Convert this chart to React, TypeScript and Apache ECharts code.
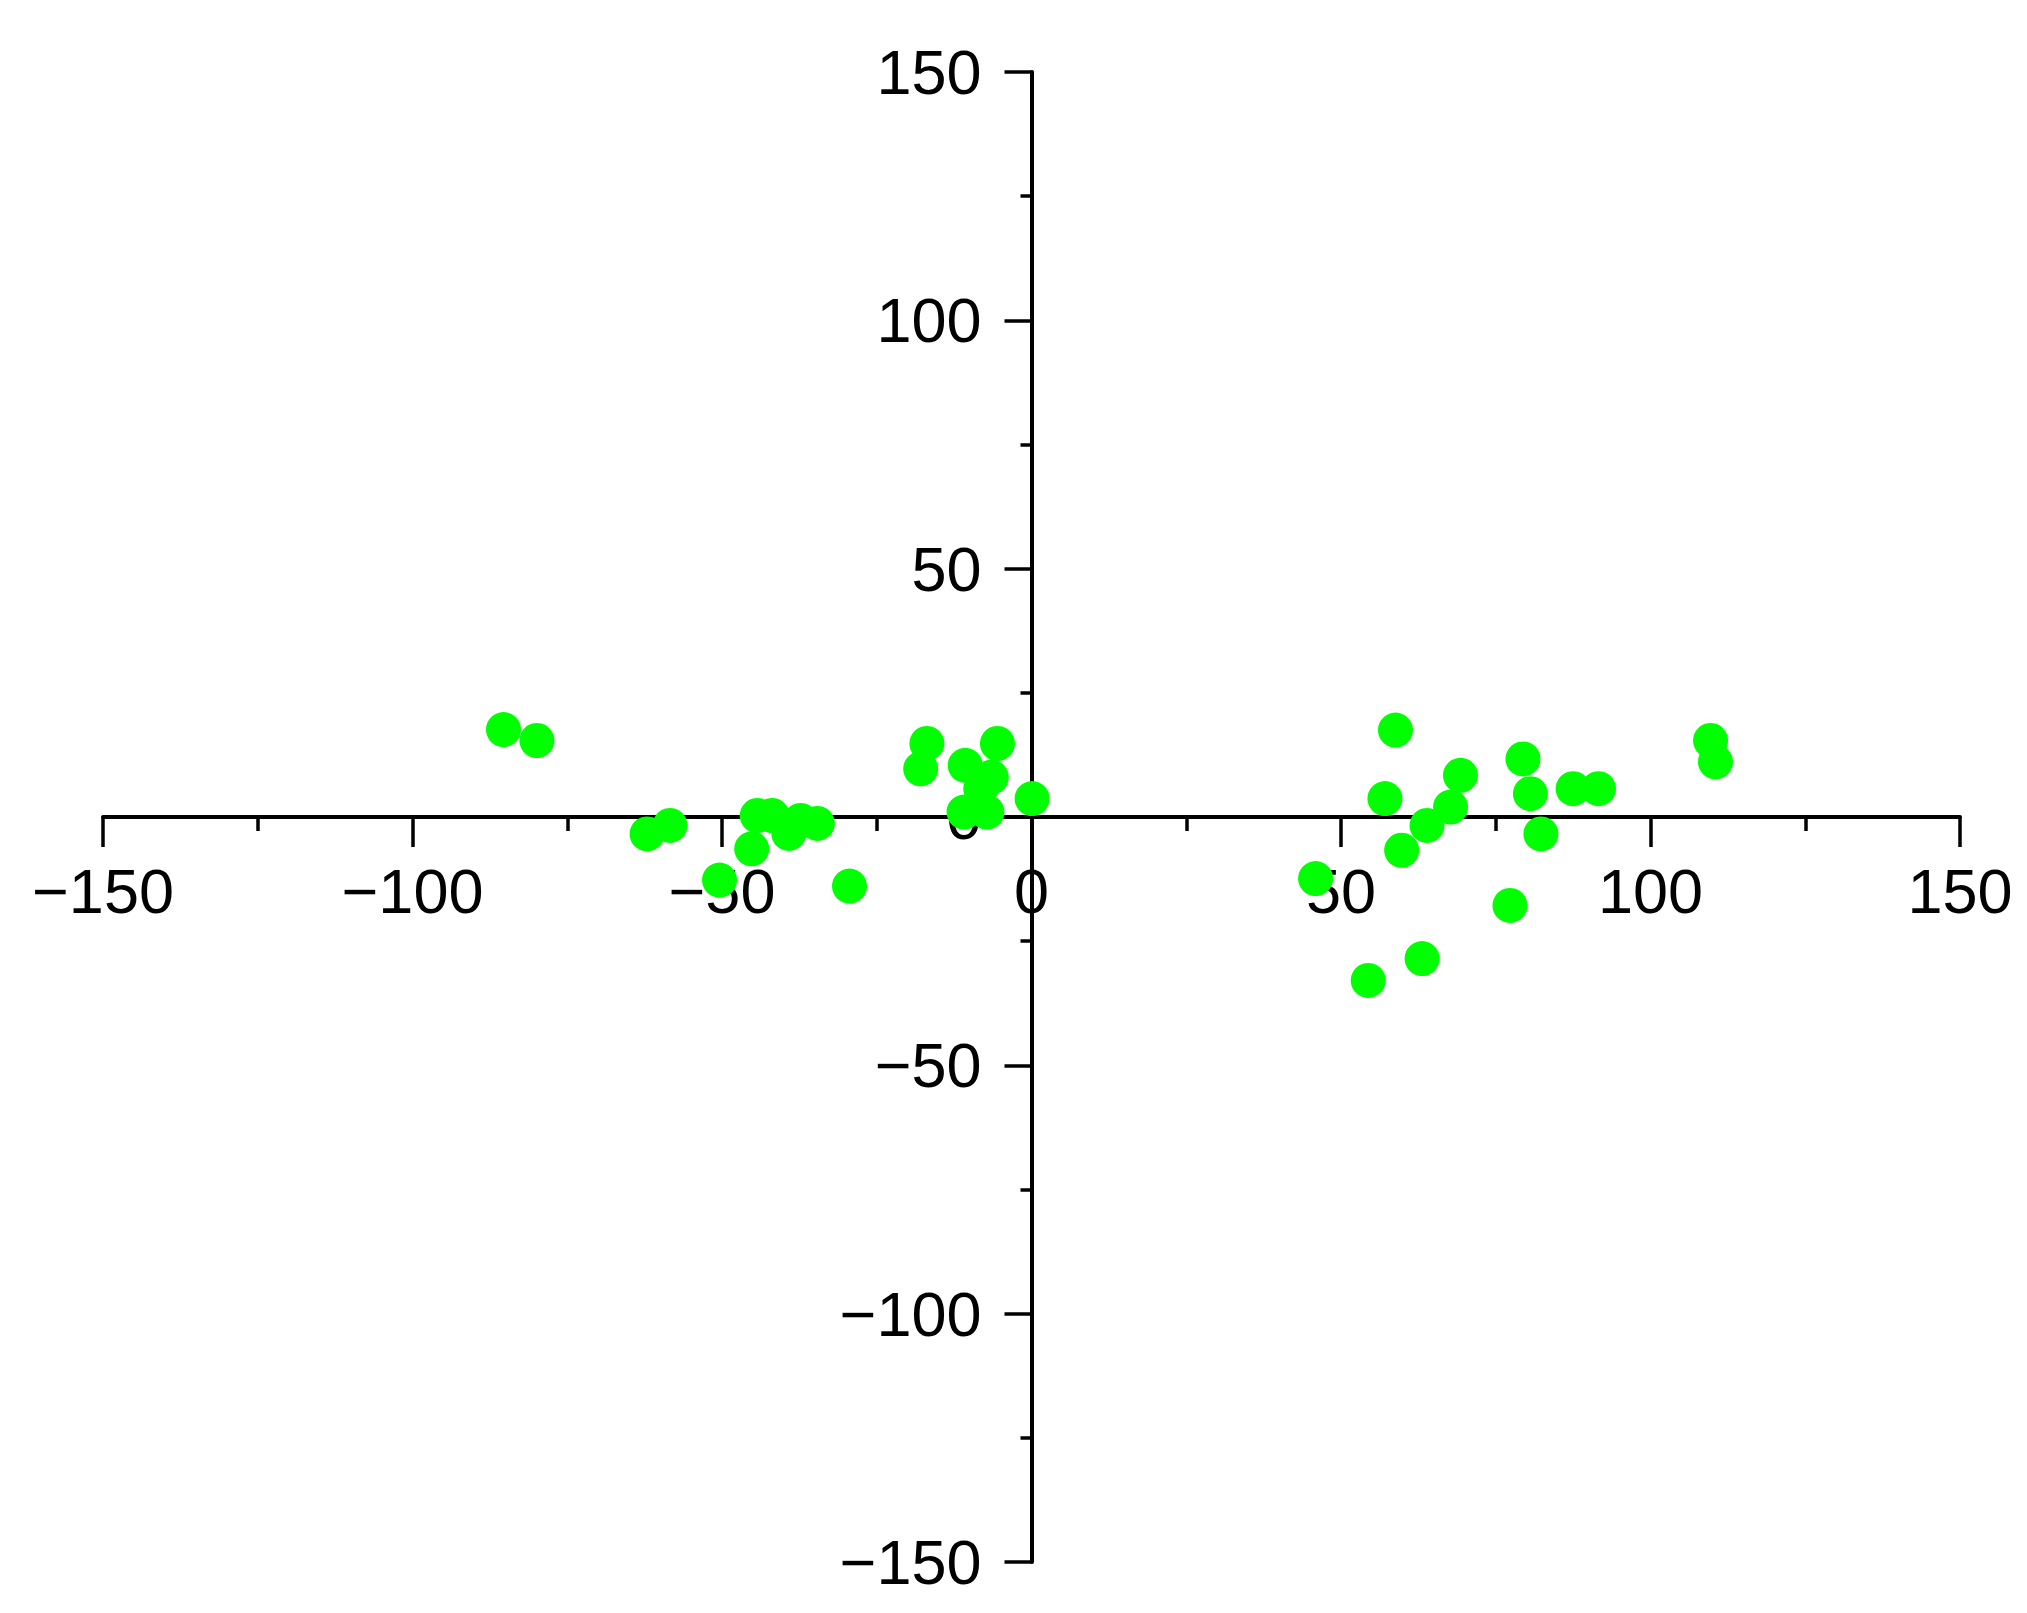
import React, { useEffect, useRef } from "react";
import * as echarts from "echarts";

// Scatter points (x, y)
const pointX = [
  -85.3, -79.9, -62.1, -58.4, -50.4, -45.2, -44.3, -41.9, -39.2, -37.3, -34.6, -29.4,
  -17.9, -16.9, -10.7, -10.9, -8.2, -7.2, -6.5, -5.5, 0.1,
  45.9, 54.4, 57.1, 58.8, 59.8, 63.1, 63.9, 67.7, 69.3, 77.3, 79.4, 80.6, 82.3, 87.5,
  91.6, 109.7, 110.5,
];
const pointY = [
  17.6, 15.4, -3.4, -1.7, -12.7, -6.4, 0.3, 0.3, -3.3, -0.7, -1.3, -13.9,
  9.7, 14.8, 10.4, 1.0, 5.7, 1.0, 8.0, 14.8, 3.7,
  -12.4, -32.9, 3.7, 17.5, -6.7, -28.5, -1.7, 2.0, 8.4, -17.8, 11.7, 4.7, -3.4, 5.7,
  5.7, 15.4, 11.1,
];

const axisMin = -150;
const axisMax = 150;
const axisStep = 50;

const FONT = "'Liberation Sans Narrow', 'Arial Narrow', 'Liberation Sans', Arial, sans-serif";

const fmt = (v: number) => (v < 0 ? "\u2212" + Math.abs(v) : String(v));

const W = 2027;
const H = 1613;
const G = { left: 103, right: 67, top: 72, bottom: 51 };

export default function App() {
  const ref = useRef<HTMLDivElement>(null);
  useEffect(() => {
    if (!ref.current) return;
    const chart = echarts.init(ref.current, undefined, { renderer: "svg" });
    const data = pointX.map((x, i) => [x, pointY[i]]);
    const gw = W - G.left - G.right;
    const gh = H - G.top - G.bottom;
    chart.setOption({
      animation: false,
      backgroundColor: "#ffffff",
      grid: {
        ...G,
        containLabel: false,
        outerBoundsMode: "none",
      },
      xAxis: {
        type: "value",
        position: "bottom",
        offset: -gh / 2,
        min: axisMin,
        max: axisMax,
        interval: axisStep,
        splitLine: { show: false },
        axisLine: { show: true, onZero: false, lineStyle: { color: "#000", width: 4 } },
        axisTick: { show: true, length: 30, lineStyle: { color: "#000", width: 3.5 } },
        minorTick: { show: true, splitNumber: 2, length: 14, lineStyle: { color: "#000", width: 3.5 } },
        axisLabel: {
          show: true,
          margin: 42,
          color: "#000",
          fontFamily: FONT,
          fontSize: 63,
          formatter: fmt,
          showMinLabel: true,
          showMaxLabel: true,
          hideOverlap: false,
        },
      },
      yAxis: {
        type: "value",
        position: "left",
        offset: -gw / 2,
        min: axisMin,
        max: axisMax,
        interval: axisStep,
        splitLine: { show: false },
        axisLine: { show: true, onZero: false, lineStyle: { color: "#000", width: 4 } },
        axisTick: { show: true, length: 27, lineStyle: { color: "#000", width: 3.5 } },
        minorTick: { show: true, splitNumber: 2, length: 11, lineStyle: { color: "#000", width: 3.5 } },
        axisLabel: {
          show: true,
          margin: 50,
          color: "#000",
          fontFamily: FONT,
          fontSize: 63,
          padding: [0, 0, 12, 0],
          formatter: fmt,
          showMinLabel: true,
          showMaxLabel: true,
          hideOverlap: false,
        },
      },
      series: [
        {
          type: "scatter",
          data,
          symbol: "circle",
          symbolSize: 35,
          itemStyle: { color: "#00ff00", opacity: 1 },
          z: 10,
        },
      ],
    });
    return () => chart.dispose();
  }, []);
  return (
    <div
      ref={ref}
      style={{ position: "fixed", left: 0, top: 0, width: W, height: H, background: "#fff" }}
    />
  );
}
